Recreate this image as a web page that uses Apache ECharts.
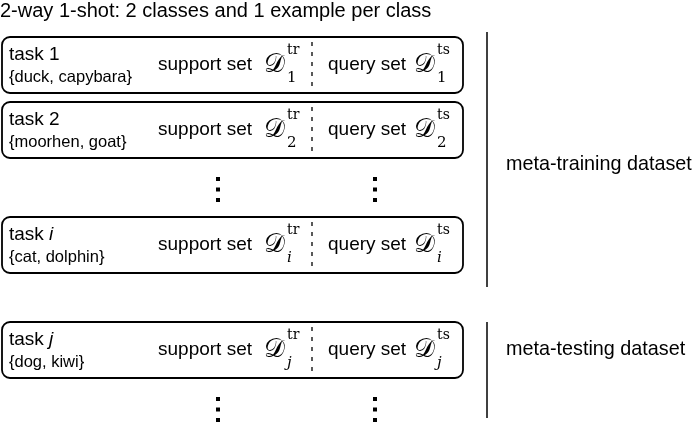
<!DOCTYPE html>
<html>
<head>
<meta charset="utf-8">
<script src="https://cdn.jsdelivr.net/npm/echarts@6/dist/echarts.min.js"></script>
<style>
  html, body { margin: 0; padding: 0; background: #fff; }
  #chart { width: 694px; height: 425px; }
</style>
</head>
<body>
<div id="chart"></div>
<script>
// content of the figure
var titleText = '2-way 1-shot: 2 classes and 1 example per class';
var taskIds = ['1', '2', 'i', 'j'];
var taskClasses = ['{duck, capybara}', '{moorhen, goat}', '{cat, dolphin}', '{dog, kiwi}'];
var taskSplit = [0, 0, 0, 1];          // 0 = meta-training, 1 = meta-testing
var ellipsisAfter = [1, 3];            // task rows followed by a vertical ellipsis
var setNames = ['support set', 'query set'];
var setTags = ['tr', 'ts'];
var datasetNames = ['meta-training dataset', 'meta-testing dataset'];

// layout (in axis units, 1 unit = 1 px)
var SANS = 'Liberation Sans, Arial, sans-serif';
var SERIF = 'DejaVu Serif, Liberation Serif, serif';
var BOX_X0 = 2, BOX_X1 = 463, BOX_H = 56, PITCH = 65, DOTS_GAP = 50, SPLIT_GAP = 40;
var DIVIDER_X = 312;
var setX = [158, 328];
var mathX = [264, 414];
var dotsX = [218, 375];
var dotsDy = [21, 31.5, 42];
var bracketX = 487, labelX = 506;
var bracketPad = [[5, 14], [0, 40]];
var labelShift = [10, 0];

var rowTop = [];
var y = 37;
taskIds.forEach(function (id, i) {
    if (i > 0) {
        y += PITCH;
        if (ellipsisAfter.indexOf(i - 1) >= 0) y += DOTS_GAP;
        if (taskSplit[i] !== taskSplit[i - 1]) y += SPLIT_GAP;
    }
    rowTop.push(y);
});

function isNum(s) { return /^[0-9]+$/.test(s); }

function txt(x, y, text, font, extra) {
    var st = {
        x: x, y: y, text: text, font: font, fill: '#000',
        align: 'left', verticalAlign: 'middle',
        textAlign: 'left', textVerticalAlign: 'middle'
    };
    if (extra) for (var k in extra) st[k] = extra[k];
    return { type: 'text', style: st };
}

function renderTask(params, api) {
    var i = api.value(0);
    var top = rowTop[i];
    var p0 = api.coord([BOX_X0, top]);
    var p1 = api.coord([BOX_X1, top + BOX_H]);
    var mid = (p0[1] + p1[1]) / 2;
    var id = taskIds[i];
    var children = [];
    children.push({
        type: 'rect',
        shape: { x: p0[0], y: p0[1], width: p1[0] - p0[0], height: p1[1] - p0[1], r: 8 },
        style: { fill: '#fff', stroke: '#000', lineWidth: 1.8 }
    });
    var d = api.coord([DIVIDER_X, top]);
    children.push({
        type: 'line',
        shape: { x1: d[0], y1: p0[1] + 5, x2: d[0], y2: p1[1] - 2 },
        style: { stroke: '#000', lineWidth: 1.3, lineDash: [4, 6] }
    });
    var nameX = api.coord([9, 0])[0];
    if (isNum(id)) {
        children.push(txt(nameX, mid - 10, 'task ' + id, '19px ' + SANS));
    } else {
        children.push(txt(nameX, mid - 10, '{a|task }{b|' + id + '}', '19px ' + SANS, {
            rich: {
                a: { font: '19px ' + SANS, fill: '#000' },
                b: { font: 'italic 19px ' + SANS, fill: '#000' }
            }
        }));
    }
    children.push(txt(nameX, mid + 12, taskClasses[i], '16.5px ' + SANS));

    setNames.forEach(function (name, s) {
        var sx = api.coord([setX[s], 0])[0];
        var mx = api.coord([mathX[s], 0])[0];
        children.push(txt(sx, mid, name, '19px ' + SANS));
        children.push(txt(mx, mid, '\uD835\uDC9F', '26px ' + SERIF));
        children.push(txt(mx + 23, mid - 15, setTags[s], '14px ' + SERIF));
        children.push(txt(mx + 23, mid + 13, id, (isNum(id) ? '' : 'italic ') + '15px ' + SERIF));
    });
    return { type: 'group', children: children };
}

function renderDots(params, api) {
    var r = api.value(0);
    var base = rowTop[r] + BOX_H;
    var children = [];
    dotsX.forEach(function (x) {
        dotsDy.forEach(function (dy) {
            var c = api.coord([x, base + dy]);
            children.push({
                type: 'rect',
                shape: { x: c[0] - 2, y: c[1] - 2, width: 4, height: 4 },
                style: { fill: '#000' }
            });
        });
    });
    return { type: 'group', children: children };
}

function renderBracket(params, api) {
    var k = api.value(0);
    var first = -1, last = -1;
    taskSplit.forEach(function (s, i) {
        if (s === k) { if (first < 0) first = i; last = i; }
    });
    var y0 = rowTop[first] - bracketPad[k][0];
    var y1 = rowTop[last] + BOX_H + bracketPad[k][1];
    var a = api.coord([bracketX, y0]);
    var b = api.coord([bracketX, y1]);
    var ly = api.coord([labelX, (rowTop[first] + rowTop[last] + BOX_H) / 2 + labelShift[k]]);
    return {
        type: 'group',
        children: [
            { type: 'line', shape: { x1: a[0], y1: a[1], x2: b[0], y2: b[1] },
              style: { stroke: '#000', lineWidth: 1.5 } },
            txt(ly[0], ly[1], datasetNames[k], '19.8px ' + SANS)
        ]
    };
}

var chart = echarts.init(document.getElementById('chart'));
var option = {
    animation: false,
    backgroundColor: '#fff',
    title: {
        text: titleText,
        left: 0,
        top: 1,
        padding: 0,
        textStyle: { fontFamily: SANS, fontSize: 20, fontWeight: 'normal', color: '#000' }
    },
    grid: { left: 0, right: 0, top: 0, bottom: 0 },
    xAxis: { type: 'value', min: 0, max: 694, show: false },
    yAxis: { type: 'value', min: 0, max: 425, inverse: true, show: false },
    series: [
        { type: 'custom', name: 'tasks', renderItem: renderTask,
          data: taskIds.map(function (id, i) { return [i]; }) },
        { type: 'custom', name: 'ellipsis', renderItem: renderDots,
          data: ellipsisAfter.map(function (r) { return [r]; }) },
        { type: 'custom', name: 'datasets', renderItem: renderBracket,
          data: datasetNames.map(function (n, k) { return [k]; }) }
    ]
};
chart.setOption(option);
</script>
</body>
</html>
